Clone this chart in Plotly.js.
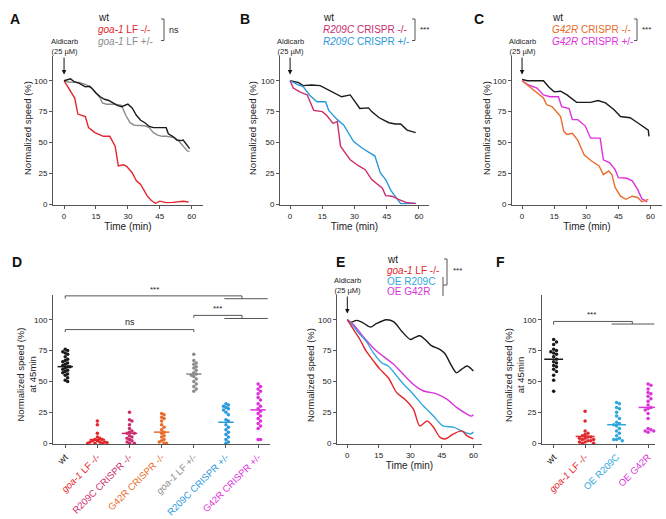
<!DOCTYPE html>
<html>
<head>
<meta charset="utf-8">
<script src="https://cdn.plot.ly/plotly-3.0.1.min.js"></script>
<style>
  html, body { margin: 0; padding: 0; background: #fff; }
  #fig { width: 666px; height: 519px; }
</style>
</head>
<body>
<div id="fig"></div>
<script>
// Panel A: goa-1 LF
const aT_wt = [0, 3, 5, 7, 10, 12, 13, 15, 17, 19, 21, 23, 25, 27, 29, 30, 32, 34, 36, 38, 40, 42, 46, 48, 49, 51, 53, 55, 56, 57, 59]
const aY_wt = [100, 101.5, 99, 98, 95, 95.5, 94, 90, 87, 85, 84, 82, 80, 79, 80, 81, 78, 72, 68, 66, 63, 62, 62, 62, 57, 55, 52, 51.5, 52, 49.5, 45]
const aT_het = [0, 2, 7, 10, 13, 15, 17, 18, 20, 24, 27, 29, 31, 33, 36, 38, 40, 42, 44, 46, 48, 52, 54, 56, 58, 59]
const aY_het = [100, 99, 98.5, 97, 94, 90, 86, 82, 81, 81, 80, 72, 66, 64, 63.5, 63.5, 62, 58, 56, 55, 55, 54, 51, 47, 43, 43]
const aT_hom = [0, 3, 5, 6.5, 10, 11.5, 14.5, 18.5, 21.5, 24, 25.5, 28, 29.5, 32, 34, 36, 37.5, 39, 41, 43, 45, 48, 51, 53, 56, 58.5]
const aY_hom = [100, 91, 86, 73, 71, 62, 58, 55, 55, 47, 31, 32, 30.5, 25.5, 19, 16, 12, 7, 3, 0.8, 2.5, 1.3, 1.5, 1.9, 2.4, 1.8]

// Panel B: R209C CRISPR
const bT_wt = [0, 4, 6, 10, 14, 19.5, 24, 28, 30, 32.5, 36.5, 38, 41.5, 46, 49, 51.5, 54.5, 58.5]
const bY_wt = [100, 98.5, 96, 96.5, 96, 91, 87, 88.5, 84, 77.5, 78, 75, 70, 66, 65, 65, 60, 58]
const bT_hom = [0, 1.5, 4.5, 8, 11, 15, 17, 20, 22, 23.5, 25.5, 28, 32, 35, 38, 41, 43, 44.5, 47.5, 50.5, 54, 58.5]
const bY_hom = [100, 94, 91, 88.5, 76, 75, 72, 65.5, 67, 47, 42, 36, 31, 28, 20, 16, 13, 7, 6.5, 4, 1.5, 0.5]
const bT_het = [0, 4, 6, 9, 12.5, 16.5, 18, 22, 25, 29.5, 33.5, 37.5, 39.5, 42, 44.5, 47, 50, 51.5, 58.5]
const bY_het = [100, 96.5, 95.5, 88.5, 83, 83, 76, 68.5, 64, 51, 45.5, 41.5, 39, 25.5, 20, 11, 4, 0.5, 0.8]

// Panel C: G42R CRISPR
const cT_wt = [0, 2.5, 10, 12.5, 15, 18, 21, 25.5, 32, 35.5, 39, 43, 46, 50.5, 54, 57.5, 59, 59.3]
const cY_wt = [101, 100, 100, 95, 91, 91.5, 88.5, 82.5, 82.5, 84, 82, 76.5, 71, 70, 66, 62, 60, 55]
const cT_hom = [0, 4, 7, 10, 11.5, 14, 16.5, 18, 19.5, 21, 23.5, 26, 29, 32.5, 36, 38, 40.5, 42, 43.5, 46, 48.5, 51.5, 54, 56, 59]
const cY_hom = [100, 94.5, 90, 86, 80.5, 79, 74, 71, 59, 56.5, 57.5, 52, 40, 35, 31, 24, 27, 24, 13.5, 6.5, 4, 6.5, 5.5, 2, 4]
const cT_het = [0, 3, 7, 10, 13, 17, 18.5, 22, 23.5, 26, 29.5, 32, 36.5, 38, 41, 43.5, 45, 49, 51.5, 54, 56, 58.5]
const cY_het = [100, 96.5, 94, 88.5, 87, 87, 79, 77.5, 68.5, 68.5, 63.5, 53.5, 53.5, 36, 33.5, 28, 21.5, 21, 19, 12, 4.5, 2]

// Panel E: overexpression
const eT_wt = [0, 1.5, 4.5, 7.5, 11, 14, 18.5, 22, 26, 30, 32, 34.5, 37, 40, 44, 46.5, 49.5, 52, 54.5, 57, 58.5, 60]
const eY_wt = [100, 98, 99.5, 97.5, 94, 97, 100, 98.5, 90.5, 84, 85.5, 87, 84, 79, 76, 72.5, 63, 57, 60, 62.5, 61, 58.5]
const eT_lf = [0, 3, 6, 9, 12.5, 15.5, 19.5, 23.5, 27.5, 31.5, 34.5, 38, 41, 44, 46.5, 50.5, 54.5, 57, 60]
const eY_lf = [100, 92, 84, 74.5, 66.5, 60, 53, 41, 35.5, 27.5, 14, 18, 13, 5, 3.5, 7.5, 10, 6, 3.5]
const eT_r209c = [0, 3, 6, 9, 12.5, 16.5, 19.5, 23.5, 27.5, 31.5, 36, 41, 45.5, 50.5, 55, 58.5, 60]
const eY_r209c = [100, 94.5, 88, 82.5, 73, 65, 62.5, 54.5, 46.5, 39.5, 30.5, 22, 14, 13, 9.5, 7.5, 9]
const eT_g42r = [0, 3, 7.5, 12.5, 17, 22, 26.5, 31.5, 36, 42.5, 47.5, 52, 57, 59, 60]
const eY_g42r = [100, 96, 86.5, 77, 70.5, 64, 56, 47.5, 42.5, 40, 35.5, 29, 23.5, 22, 23]

// Panel D: speed at 45 min, per worm
const dWt = [76, 75, 74, 73, 72, 70, 68, 67, 66, 65, 64, 63, 62, 62, 61, 60, 59, 58, 57, 56, 55, 53, 51, 50]
const dLfHom = [18, 15, 8, 5, 4, 3, 3, 2, 2, 1, 1, 1, 0.5, 0, 0, 0]
const dR209cHom = [25, 19, 18, 15, 12, 10, 9, 8, 8, 6, 5, 4, 3, 2, 1, 0, 0]
const dG42rHom = [24, 23, 21, 20, 18, 15, 13, 11, 9, 8, 6, 5, 3, 2, 1, 0, 0]
const dLfHet = [72, 67, 65, 64, 62, 61, 59, 57, 56, 55, 54, 52, 50, 48, 46, 44, 42]
const dR209cHet = [32, 31, 30, 29, 28, 27, 25, 23, 19, 18, 15, 13, 11, 9, 7, 5, 3, 1, 0]
const dG42rHet = [48, 46, 44, 42, 40, 37, 35, 32, 30, 28, 26, 24, 22, 20, 18, 16, 14, 12, 3, 3]
const dMeans = [62, 3, 8, 9, 56, 17, 27]
const dLabels = ['wt', '<i>goa-1</i> LF -/-', 'R209C CRISPR -/-', 'G42R CRISPR -/-', '<i>goa-1</i> LF +/-', 'R209C CRISPR +/-', 'G42R CRISPR +/-']

// Panel F
const fWt = [84, 82, 80, 76, 75, 74, 73, 72, 70, 68, 66, 65, 63, 62, 60, 58, 55, 51, 42]
const fLfHom = [26, 18, 10, 8, 7, 6, 5, 5, 4, 4, 3, 3, 2, 2, 1, 1, 0, 0]
const fR209c = [33, 32, 29, 28, 25, 22, 20, 17, 16, 15, 14, 12, 10, 8, 6, 4, 3, 3, 2]
const fG42r = [48, 47, 44, 41, 40, 38, 36, 34, 31, 29, 28, 27, 24, 20, 12, 11, 10, 10, 9]
const fMeans = [68, 5.5, 15, 29]
const fLabels = ['wt', '<i>goa-1</i> LF -/-', 'OE R209C', 'OE G42R']

const W = 666, H = 519
const FONT = 'Liberation Sans, Arial, sans-serif'
const C = {
  wt: '#1a1a1a', lf: '#e3262b', gray: '#8c8c8c', r209cHom: '#cc2c6e', r209cHet: '#2b98dc',
  g42rHom: '#ea6a2a', g42rHet: '#df30df', oeR209c: '#2fa7dc', oeG42r: '#d934d9'
}
const px = x => x / W
const py = y => 1 - y / H

// simple beeswarm offsets: nearby values get pushed sideways
function swarm(vals, step, thr) {
  const offs = []
  const slots = [0, 1, -1, 2, -2, 3, -3, 4, -4]
  vals.forEach((v, i) => {
    const used = new Set()
    for (let j = 0; j < i; j++) if (Math.abs(vals[j] - v) < thr) used.add(offs[j])
    const k = slots.find(s => !used.has(s))
    offs.push(k === undefined ? 0 : k)
  })
  return offs.map(o => o * step)
}

const traces = []
function lineTrace(xs, ys, color, ax, smooth) {
  traces.push({
    x: xs, y: ys, type: 'scatter', mode: 'lines', xaxis: 'x' + ax, yaxis: 'y' + ax,
    line: { color: color, width: 1.4, shape: smooth ? 'spline' : 'linear', smoothing: 0.8 },
    showlegend: false, hoverinfo: 'skip'
  })
}
lineTrace(aT_het, aY_het, C.gray, '')
lineTrace(aT_hom, aY_hom, C.lf, '')
lineTrace(aT_wt, aY_wt, C.wt, '')
lineTrace(bT_wt, bY_wt, C.wt, '2')
lineTrace(bT_het, bY_het, C.r209cHet, '2')
lineTrace(bT_hom, bY_hom, C.r209cHom, '2')
lineTrace(cT_wt, cY_wt, C.wt, '3')
lineTrace(cT_het, cY_het, C.g42rHet, '3')
lineTrace(cT_hom, cY_hom, C.g42rHom, '3')
lineTrace(eT_wt, eY_wt, C.wt, '5', true)
lineTrace(eT_g42r, eY_g42r, C.oeG42r, '5', true)
lineTrace(eT_r209c, eY_r209c, C.oeR209c, '5', true)
lineTrace(eT_lf, eY_lf, C.lf, '5', true)

const shapes = []
function dotGroup(vals, idx, color, ax, step, mean, half) {
  const offs = swarm(vals, step, 3)
  traces.push({
    x: offs.map(o => idx + o), y: vals, type: 'scatter', mode: 'markers',
    xaxis: 'x' + ax, yaxis: 'y' + ax, cliponaxis: false,
    marker: { color: color, size: 3.5 }, showlegend: false, hoverinfo: 'skip'
  })
  shapes.push({ type: 'line', xref: 'x' + ax, yref: 'y' + ax, x0: idx - half, x1: idx + half, y0: mean, y1: mean,
    line: { color: color, width: 1.5 } })
}
const dGroups = [dWt, dLfHom, dR209cHom, dG42rHom, dLfHet, dR209cHet, dG42rHet]
const dColors = [C.wt, C.lf, C.r209cHom, C.g42rHom, C.gray, C.r209cHet, C.g42rHet]
dGroups.forEach((g, i) => dotGroup(g, i, dColors[i], '4', 0.075, dMeans[i], 0.24))
const fGroups = [fWt, fLfHom, fR209c, fG42r]
const fColors = [C.wt, C.lf, C.oeR209c, C.oeG42r]
fGroups.forEach((g, i) => dotGroup(g, i, fColors[i], '6', 0.09, fMeans[i], 0.3))

// axes
const baseAxis = {
  showline: true, linecolor: '#555', linewidth: 1, ticks: 'outside', ticklen: 3, tickcolor: '#555',
  showgrid: false, zeroline: false, tickfont: { family: FONT, size: 8, color: '#222' }, fixedrange: true
}
const timeAxis = (x0, x1, range) => Object.assign({}, baseAxis, {
  domain: [px(x0), px(x1)], range: range, tickvals: [0, 15, 30, 45, 60],
  title: { text: 'Time (min)', font: { family: FONT, size: 10, color: '#222' }, standoff: 2 }
})
const speedAxis = (anchor, top, bottom) => Object.assign({}, baseAxis, {
  domain: [py(bottom), py(top)], range: [-0.6, 120], tickvals: [0, 25, 50, 75, 100], anchor: anchor
})
const catAxis = (x0, x1, range, labels, colors) => Object.assign({}, baseAxis, {
  domain: [px(x0), px(x1)], range: range, tickvals: labels.map((l, i) => i),
  ticktext: labels.map((l, i) => '<span style="color:' + colors[i] + '">' + l + '</span>'),
  tickangle: -45, tickfont: { family: FONT, size: 9.5, color: '#222' }
})

const NS = 'Normalized speed (%)'
const layout = {
  width: W, height: H, margin: { l: 0, r: 0, t: 0, b: 0 },
  paper_bgcolor: '#fff', plot_bgcolor: 'rgba(0,0,0,0)', showlegend: false,
  font: { family: FONT, color: '#222' },
  xaxis: Object.assign(timeAxis(53, 203, [-5.2, 65.3]), { anchor: 'y' }),
  yaxis: speedAxis('x', 56, 205),
  xaxis2: Object.assign(timeAxis(280, 429, [-4.7, 64.7]), { anchor: 'y2' }),
  yaxis2: speedAxis('x2', 56, 205),
  xaxis3: Object.assign(timeAxis(512, 662, [-4.7, 65.4]), { anchor: 'y3' }),
  yaxis3: speedAxis('x3', 56, 205),
  xaxis4: Object.assign(catAxis(53, 270, [-0.38, 6.37], dLabels, dColors), { anchor: 'y4' }),
  yaxis4: speedAxis('x4', 295, 444),
  xaxis5: Object.assign(timeAxis(337, 482, [-4.9, 64.1]), { anchor: 'y5' }),
  yaxis5: speedAxis('x5', 295, 444),
  xaxis6: Object.assign(catAxis(542, 655, [-0.37, 3.22], fLabels, fColors), { anchor: 'y6' }),
  yaxis6: speedAxis('x6', 295, 444),
  shapes: shapes,
  annotations: []
}

const ann = layout.annotations
function txt(x, y, text, size, opts) {
  ann.push(Object.assign({ xref: 'paper', yref: 'paper', x: px(x), y: py(y), text: text, showarrow: false,
    xanchor: 'left', yanchor: 'middle', font: { family: FONT, size: size, color: '#222' } }, opts || {}))
}
function pline(x0, y0, x1, y1, color) {
  shapes.push({ type: 'line', xref: 'paper', yref: 'paper', x0: px(x0), y0: py(y0), x1: px(x1), y1: py(y1),
    line: { color: color || '#555', width: 1 } })
}

// y axis titles
;[[27, 128, NS], [252, 128, NS], [486, 128, NS], [310, 375, NS], [25.5, 375, NS + '<br>at 45min'], [514, 375, NS + '<br>at 45min']]
  .forEach(t => txt(t[0], t[1], t[2], 9.5, { xanchor: 'center', textangle: -90 }))

// panel letters
;[['A', 8, 19], ['B', 238, 19], ['C', 472, 19], ['D', 10, 262], ['E', 334, 262], ['F', 494, 262]].forEach(p =>
  txt(p[1], p[2], '<b>' + p[0] + '</b>', 14, { font: { family: FONT, size: 14, color: '#111' } }))

// legends with brackets
function legendBlock(x, ys, lines, colors, bx, star) {
  lines.forEach((l, i) => txt(x, ys[i], l, 10, { font: { family: FONT, size: 10, color: colors[i] } }))
  pline(bx, ys[0] + 1, bx, ys[ys.length - 1] - 1)
  pline(bx - 3, ys[0] + 1, bx, ys[0] + 1)
  pline(bx - 3, ys[ys.length - 1] - 1, bx, ys[ys.length - 1] - 1)
  txt(bx + 3, (ys[0] + ys[ys.length - 1]) / 2, star, star === 'ns' ? 9 : 8)
}
legendBlock(96, [18, 30, 41.5], ['wt', '<i>goa-1</i> LF -/-', '<i>goa-1</i> LF +/-'], [C.wt, C.lf, C.gray], 164, 'ns')
legendBlock(321, [18, 30, 41.5], ['wt', '<i>R209C</i> CRISPR -/-', '<i>R209C</i> CRISPR +/-'], [C.wt, C.r209cHom, C.r209cHet], 415, '***')
legendBlock(550, [18, 30, 41.5], ['wt', '<i>G42R</i> CRISPR -/-', '<i>G42R</i> CRISPR +/-'], [C.wt, C.g42rHom, C.g42rHet], 637, '***')

// legend E
const eYs = [259, 270, 281, 291.5]
;['wt', '<i>goa-1</i> LF -/-', 'OE R209C', 'OE G42R'].forEach((l, i) =>
  txt(385, eYs[i], l, 10, { font: { family: FONT, size: 10, color: [C.wt, C.lf, C.oeR209c, C.oeG42r][i] } }))
pline(447, 259, 447, 285)
pline(444, 259, 447, 259)
pline(443, 285, 447, 285)
pline(443, 277, 443, 296)
txt(451, 270, '***', 8)

// aldicarb arrows
function aldicarb(ax) {
  ann.push({ xref: 'x' + ax, yref: 'y' + ax, x: 0, y: 105, text: 'Aldicarb<br>(25 µM)', showarrow: true,
    arrowhead: 2, arrowsize: 0.9, arrowwidth: 1, arrowcolor: '#111', ax: 0, ay: -28, standoff: 0,
    font: { family: FONT, size: 7.5, color: '#222' } })
}
;['', '2', '3', '5'].forEach(aldicarb)

// significance brackets
function sline(ax, x0, y0, x1, y1) {
  shapes.push({ type: 'line', xref: 'x' + ax, yref: 'y' + ax, x0: x0, y0: y0, x1: x1, y1: y1, line: { color: '#555', width: 1 } })
}
function stext(ax, x, y, t) {
  ann.push({ xref: 'x' + ax, yref: 'y' + ax, x: x, y: y, text: t, showarrow: false, yanchor: 'bottom',
    font: { family: FONT, size: t === 'ns' ? 9 : 8, color: '#222' } })
}
// D: wt vs +/- mutants
sline('4', 0, 117, 0, 119.3); sline('4', 0, 119.3, 5.5, 119.3); sline('4', 5.5, 119.3, 5.5, 117)
sline('4', 4.95, 117, 6.3, 117)
stext('4', 2.77, 119.3, '***')
// D: goa-1 +/- vs +/- mutants
sline('4', 4, 101.5, 4, 103.5); sline('4', 4, 103.5, 5.5, 103.5); sline('4', 5.5, 103.5, 5.5, 101)
sline('4', 4.95, 101, 6.3, 101)
stext('4', 4.75, 103.5, '***')
// D: ns
sline('4', 0, 90, 0, 92); sline('4', 0, 92, 4, 92); sline('4', 4, 92, 4, 90)
stext('4', 2, 92.5, 'ns')
// F
sline('6', 0, 96, 0, 98.6); sline('6', 0, 98.6, 2.5, 98.6); sline('6', 2.5, 98.6, 2.5, 96.5)
sline('6', 1.84, 96.5, 3.2, 96.5)
stext('6', 1.2, 98.6, '***')

Plotly.newPlot('fig', traces, layout, { staticPlot: true, displayModeBar: false })
</script>
</body>
</html>
